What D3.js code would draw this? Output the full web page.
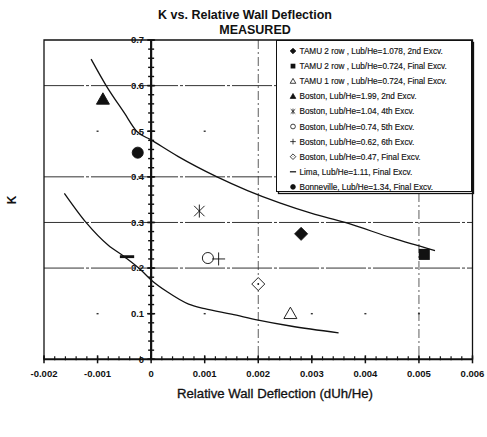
<!DOCTYPE html>
<html>
<head>
<meta charset="utf-8">
<script src="https://cdn.jsdelivr.net/npm/d3@7"></script>
<style>
  body { margin: 0; background: #fff; }
  svg { display: block; font-family: "Liberation Sans", Arial, sans-serif; }
</style>
</head>
<body>
<svg id="chart" width="487" height="437"></svg>
<script>
// Series: [label, marker type, x (dUh/He), K]
const seriesNames = [
  "TAMU 2 row , Lub/He=1.078, 2nd Excv.",
  "TAMU 2 row , Lub/He=0.724, Final Excv.",
  "TAMU 1 row , Lub/He=0.724, Final Excv.",
  "Boston, Lub/He=1.99, 2nd Excv.",
  "Boston, Lub/He=1.04, 4th Excv.",
  "Boston, Lub/He=0.74, 5th Excv.",
  "Boston, Lub/He=0.62, 6th Excv.",
  "Boston, Lub/He=0.47, Final Excv.",
  "Lima, Lub/He=1.11, Final Excv.",
  "Bonneville, Lub/He=1.34, Final Excv."
];
const seriesMarkers = ["diamondFill", "squareFill", "triangleOpen", "triangleFill", "star",
  "circleOpen", "plus", "diamondOpen", "dash", "circleFill"];
const seriesX = [0.0028, 0.0051, 0.0026, -0.0009, 0.0009, 0.00106, 0.00126, 0.002, -0.00045, -0.00025];
const seriesK = [0.275, 0.23, 0.1, 0.57, 0.325, 0.222, 0.22, 0.165, 0.225, 0.453];

// Upper and lower bound curves
const upperX = [-0.00112, -0.00084, -0.0005, -0.00027, 0, 0.0005, 0.00123, 0.0018, 0.0024, 0.003, 0.00362, 0.0045, 0.0053];
const upperK = [0.658, 0.6, 0.54, 0.5, 0.481, 0.445, 0.4, 0.37, 0.343, 0.32, 0.3, 0.266, 0.238];
const lowerX = [-0.00162, -0.0012, -0.0008, -0.0005, -0.0002, 0, 0.0003, 0.0007, 0.001, 0.0015, 0.002, 0.0026, 0.0035];
const lowerK = [0.364, 0.298, 0.25, 0.225, 0.197, 0.174, 0.148, 0.121, 0.111, 0.099, 0.086, 0.073, 0.058];

const xTicks = [-0.002, -0.001, 0, 0.001, 0.002, 0.003, 0.004, 0.005, 0.006];
const xTickLabels = ["-0.002", "-0.001", "0", "0.001", "0.002", "0.003", "0.004", "0.005", "0.006"];
const yTicks = [0, 0.1, 0.2, 0.3, 0.4, 0.5, 0.6, 0.7];
const yTickLabels = ["0", "0.1", "0.2", "0.3", "0.4", "0.5", "0.6", "0.7"];

const svg = d3.select("#chart");
const x = d3.scaleLinear().domain([-0.002, 0.006]).range([44, 472.5]);
const y = d3.scaleLinear().domain([0, 0.7]).range([359.3, 40]);
const ink = "#111";

// Titles
svg.append("text").attr("x", 245).attr("y", 19).attr("text-anchor", "middle")
  .attr("font-size", 12.5).attr("font-weight", "bold").attr("fill", ink)
  .text("K vs. Relative Wall Deflection");
svg.append("text").attr("x", 255).attr("y", 34).attr("text-anchor", "middle")
  .attr("font-size", 12.5).attr("font-weight", "bold").attr("fill", ink)
  .text("MEASURED");

// Gridlines
const grid = svg.append("g").attr("stroke", "#333").attr("stroke-width", 1);
[0.2, 0.3, 0.4, 0.6].forEach(v => {
  grid.append("line").attr("x1", x(-0.002)).attr("x2", x(0.006))
    .attr("y1", y(v)).attr("y2", y(v)).attr("stroke-dasharray", "40,2,3,2");
});
[0.002, 0.005].forEach(v => {
  grid.append("line").attr("x1", x(v)).attr("x2", x(v))
    .attr("y1", y(0.7)).attr("y2", y(0)).attr("stroke-dasharray", "9,3,2,3")
    .attr("stroke-width", 0.8);
});
// faint remnants of the 0.1 and 0.5 gridlines
[0.1, 0.5].forEach(v => {
  [-0.001, 0.001, 0.003, 0.004, 0.005].forEach(xv => {
    grid.append("rect").attr("x", x(xv) - 1).attr("y", y(v) - 0.7)
      .attr("width", 2).attr("height", 1.4).attr("fill", "#333").attr("stroke", "none");
  });
});

// Plot border (left, top, right)
svg.append("path")
  .attr("d", `M${x(-0.002)},${y(0)}V${y(0.7)}H${x(0.006)}V${y(0)}`)
  .attr("fill", "none").attr("stroke", ink).attr("stroke-width", 1.3);

// Curves
const line = d3.line().x(d => x(d[0])).y(d => y(d[1])).curve(d3.curveMonotoneX);
svg.append("path").datum(upperX.map((v, i) => [v, upperK[i]]))
  .attr("d", line).attr("fill", "none").attr("stroke", ink).attr("stroke-width", 1.3);
svg.append("path").datum(lowerX.map((v, i) => [v, lowerK[i]]))
  .attr("d", line).attr("fill", "none").attr("stroke", ink).attr("stroke-width", 1.3);

// X axis along K = 0
const xAxis = svg.append("g").attr("transform", `translate(0,${y(0)})`);
xAxis.append("line").attr("x1", x(-0.002)).attr("x2", x(0.006)).attr("stroke", ink).attr("stroke-width", 2);
xAxis.selectAll(".xminor").data(d3.range(-0.002, 0.00601, 0.0002)).enter().append("line")
  .attr("x1", d => x(d)).attr("x2", d => x(d)).attr("y1", -3).attr("y2", 1)
  .attr("stroke", ink).attr("stroke-width", 1.2);
xAxis.selectAll(".xmajor").data(xTicks).enter().append("line")
  .attr("x1", d => x(d)).attr("x2", d => x(d)).attr("y1", -4).attr("y2", 4)
  .attr("stroke", ink).attr("stroke-width", 1.5);
xAxis.selectAll(".xlab").data(xTicks).enter().append("text")
  .attr("x", d => x(d)).attr("y", 18).attr("text-anchor", "middle")
  .attr("font-size", 9.5).attr("font-weight", "bold").attr("fill", ink)
  .text((d, i) => xTickLabels[i]);

// Y axis along x = 0
const yAxis = svg.append("g").attr("transform", `translate(${x(0)},0)`);
yAxis.append("line").attr("y1", y(0)).attr("y2", y(0.7)).attr("stroke", ink).attr("stroke-width", 2.2);
yAxis.selectAll(".yminor").data(d3.range(0, 0.7001, 0.02)).enter().append("line")
  .attr("y1", d => y(d)).attr("y2", d => y(d)).attr("x1", -3).attr("x2", 3)
  .attr("stroke", ink).attr("stroke-width", 1.4);
yAxis.selectAll(".ymajor").data(yTicks).enter().append("line")
  .attr("y1", d => y(d)).attr("y2", d => y(d)).attr("x1", -4).attr("x2", 4)
  .attr("stroke", ink).attr("stroke-width", 1.5);
yAxis.selectAll(".ylab").data(yTicks).enter().append("text")
  .attr("x", -7).attr("y", d => y(d) + 3.3).attr("text-anchor", "end")
  .attr("font-size", 9.5).attr("font-weight", "bold").attr("fill", ink)
  .text((d, i) => yTickLabels[i]);

// Axis titles
svg.append("text").attr("transform", "translate(16,200) rotate(-90)")
  .attr("text-anchor", "middle").attr("font-size", 12).attr("font-weight", "bold").attr("fill", ink)
  .text("K");
svg.append("text").attr("x", 177).attr("y", 398)
  .attr("textLength", 196).attr("lengthAdjust", "spacingAndGlyphs")
  .attr("font-size", 12.5).attr("fill", ink).attr("stroke", ink).attr("stroke-width", 0.3)
  .text("Relative Wall Deflection (dUh/He)");

// Marker drawing
function drawMarker(g, type, cx, cy, s) {
  const filled = type.endsWith("Fill");
  const fill = filled ? ink : "#fff";
  const sw = Math.max(0.8, s / 7);
  if (type.startsWith("diamond")) {
    g.append("path").attr("d", `M${cx},${cy - s}L${cx + s},${cy}L${cx},${cy + s}L${cx - s},${cy}Z`)
      .attr("fill", fill).attr("stroke", ink).attr("stroke-width", sw);
    if (!filled) g.append("circle").attr("cx", cx).attr("cy", cy).attr("r", s / 7).attr("fill", ink);
  } else if (type === "squareFill") {
    g.append("rect").attr("x", cx - s * 0.85).attr("y", cy - s * 0.85)
      .attr("width", s * 1.7).attr("height", s * 1.7).attr("fill", ink);
  } else if (type.startsWith("triangle")) {
    g.append("path").attr("d", `M${cx},${cy - s}L${cx + s},${cy + s * 0.75}L${cx - s},${cy + s * 0.75}Z`)
      .attr("fill", fill).attr("stroke", ink).attr("stroke-width", sw);
  } else if (type.startsWith("circle")) {
    g.append("circle").attr("cx", cx).attr("cy", cy).attr("r", s * 0.85)
      .attr("fill", fill).attr("stroke", ink).attr("stroke-width", sw);
  } else if (type === "star") {
    const r = s;
    g.append("path").attr("d",
      `M${cx - r * 0.8},${cy - r * 0.8}L${cx + r * 0.8},${cy + r * 0.8}` +
      `M${cx + r * 0.8},${cy - r * 0.8}L${cx - r * 0.8},${cy + r * 0.8}` +
      `M${cx},${cy - r}V${cy + r}`)
      .attr("stroke", ink).attr("stroke-width", sw).attr("fill", "none");
  } else if (type === "plus") {
    g.append("path").attr("d", `M${cx - s},${cy}H${cx + s}M${cx},${cy - s}V${cy + s}`)
      .attr("stroke", ink).attr("stroke-width", sw).attr("fill", "none");
  } else if (type === "dash") {
    g.append("rect").attr("x", cx - s * 1.1).attr("y", cy - s * 0.22)
      .attr("width", s * 2.2).attr("height", s * 0.44).attr("fill", ink);
  }
}

// Data points
const pts = svg.append("g");
seriesNames.forEach((n, i) => {
  drawMarker(pts, seriesMarkers[i], x(seriesX[i]), y(seriesK[i]), 6.5);
});

// Legend
const lg = svg.append("g");
lg.append("rect").attr("x", 278.5).attr("y", 42.5).attr("width", 195).attr("height", 151)
  .attr("fill", "none").attr("stroke", ink).attr("stroke-width", 1.3);
lg.append("rect").attr("x", 276.5).attr("y", 40.5).attr("width", 195).attr("height", 151)
  .attr("fill", "#fff").attr("stroke", ink).attr("stroke-width", 1);
seriesNames.forEach((n, i) => {
  const yy = 51 + i * 15.1;
  drawMarker(lg, seriesMarkers[i], 293, yy, 2.8);
  lg.append("text").attr("x", 299.5).attr("y", yy + 3).attr("font-size", 8.2)
    .attr("fill", ink).attr("stroke", ink).attr("stroke-width", 0.15).text(n);
});
</script>
</body>
</html>
